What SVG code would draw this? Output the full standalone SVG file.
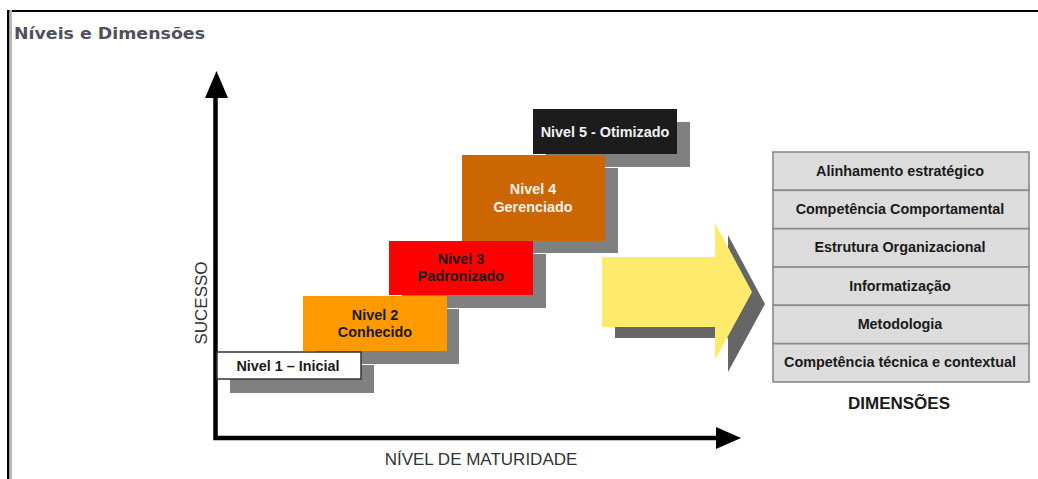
<svg xmlns="http://www.w3.org/2000/svg" width="1038" height="479" viewBox="0 0 1038 479">
  <style>
    .lbl { font-family: "Liberation Sans", Arial, sans-serif; font-weight: bold; font-size: 14.4px; text-anchor: middle; }
    .dark { fill: #1a1a1a; }
    .light { fill: #f2f2f2; }
    .shadow { fill: #808080; }
    .dim rect { fill: #dcdcdc; stroke: #8a8a8a; stroke-width: 1.6; }
    .axis-lbl { font-family: "Liberation Sans", Arial, sans-serif; font-size: 17px; fill: #333; text-anchor: middle; }
  </style>

  <rect width="1038" height="479" fill="#ffffff"/>

  <!-- page frame -->
  <line x1="7" y1="11" x2="1038" y2="11" stroke="#000" stroke-width="2"/>
  <rect x="7" y="10" width="2.5" height="469" fill="#000"/>
  <rect x="9.5" y="10" width="2.5" height="469" fill="#b8b8b8"/>

  <text x="14" y="39" font-family="'DejaVu Sans', Verdana, sans-serif" font-weight="bold" font-size="15.5" fill="#50505e" textLength="191" lengthAdjust="spacingAndGlyphs">Níveis e Dimensões</text>

  <!-- axes -->
  <g id="axes">
    <path d="M215.5,96 V438 H720" fill="none" stroke="#000" stroke-width="4.5" stroke-linejoin="miter"/>
    <polygon points="216.5,71 205,98 228,98" fill="#000"/>
    <polygon points="741,438 716,427 716,449" fill="#000"/>
    <text class="axis-lbl" x="481" y="465">NÍVEL DE MATURIDADE</text>
    <text class="axis-lbl" transform="translate(207,303) rotate(-90)">SUCESSO</text>
  </g>

  <!-- step shadows -->
  <g id="shadows">
    <rect class="shadow" x="230" y="365" width="144" height="28"/>
    <rect class="shadow" x="316" y="309" width="143" height="55"/>
    <rect class="shadow" x="402" y="254" width="144" height="54"/>
    <rect class="shadow" x="475" y="168" width="143" height="85"/>
    <rect class="shadow" x="546" y="122" width="144" height="45"/>
  </g>

  <g id="nivel1">
    <rect x="217" y="352" width="144" height="27" fill="#fff" stroke="#333" stroke-width="1.5"/>
    <text class="lbl dark" x="288" y="371">Nivel 1 – Inicial</text>
  </g>
  <g id="nivel2">
    <rect x="303" y="296" width="144" height="55" fill="#ff9900"/>
    <text class="lbl dark" x="375" y="320">Nivel 2</text>
    <text class="lbl dark" x="375" y="337">Conhecido</text>
  </g>
  <g id="nivel3">
    <rect x="389" y="241" width="144" height="54" fill="#ff0000"/>
    <text class="lbl dark" x="461" y="264">Nivel 3</text>
    <text class="lbl dark" x="461" y="281">Padronizado</text>
  </g>
  <g id="nivel4">
    <rect x="462" y="155" width="143" height="86" fill="#cc6600"/>
    <text class="lbl light" x="533" y="194">Nivel 4</text>
    <text class="lbl light" x="533" y="212">Gerenciado</text>
  </g>
  <g id="nivel5">
    <rect x="533" y="109" width="144" height="45" fill="#1c1c1c"/>
    <text class="lbl light" x="605" y="137">Nivel 5 - Otimizado</text>
  </g>

  <!-- big arrow -->
  <g id="arrow">
    <polygon points="615,269 728,269 728,235 765,304 728,372 728,338 615,338" fill="#666"/>
    <polygon points="602,257 715,257 715,223 752,292 715,360 715,327 602,327" fill="#ffeb6b"/>
  </g>

  <!-- dimensions table -->
  <g id="dimensoes" class="dim">
    <rect x="773" y="152" width="256" height="38.3"/>
    <rect x="773" y="190.3" width="256" height="38.3"/>
    <rect x="773" y="228.7" width="256" height="38.3"/>
    <rect x="773" y="267" width="256" height="38.3"/>
    <rect x="773" y="305.3" width="256" height="38.3"/>
    <rect x="773" y="343.7" width="256" height="38.3"/>
    <text class="lbl dark" x="900" y="176">Alinhamento estratégico</text>
    <text class="lbl dark" x="900" y="214">Competência Comportamental</text>
    <text class="lbl dark" x="900" y="252">Estrutura Organizacional</text>
    <text class="lbl dark" x="900" y="291">Informatização</text>
    <text class="lbl dark" x="900" y="329">Metodologia</text>
    <text class="lbl dark" x="900" y="367">Competência técnica e contextual</text>
    <text x="899" y="409" font-family="'Liberation Sans', Arial, sans-serif" font-weight="bold" font-size="17px" fill="#1a1a1a" text-anchor="middle">DIMENSÕES</text>
  </g>
</svg>
